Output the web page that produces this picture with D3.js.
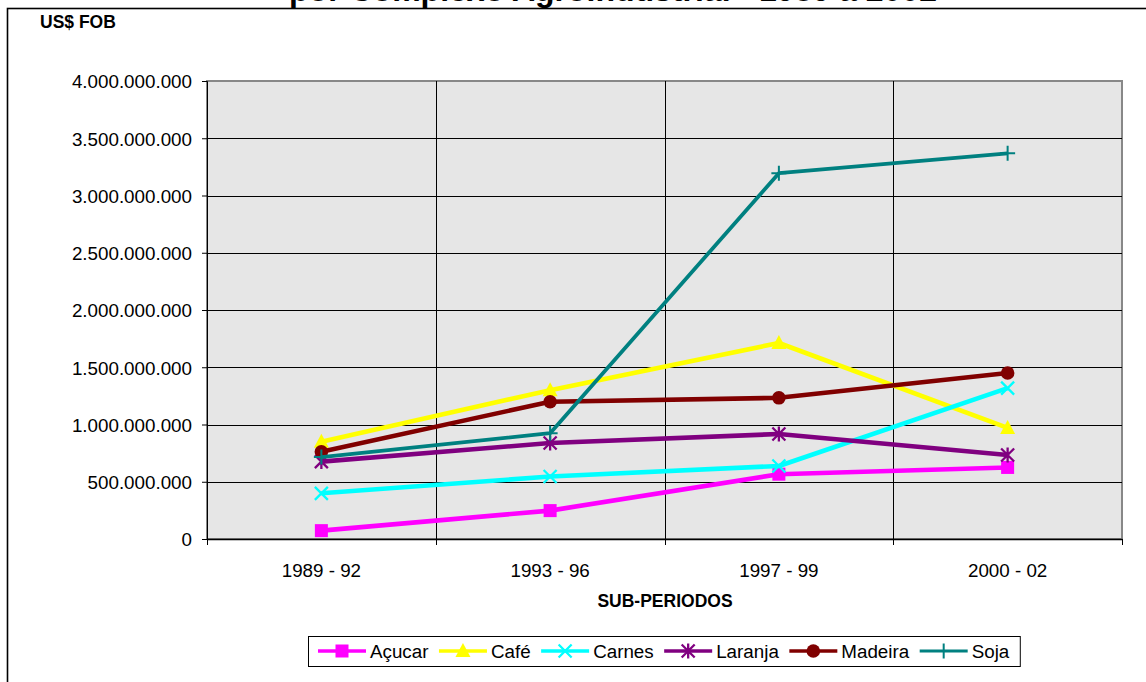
<!DOCTYPE html>
<html>
  <head>
    <meta charset="utf-8">
    <title>Exportações por Complexo Agroindustrial</title>
    <script src="https://d3js.org/d3.v7.min.js"></script>
    <style type="text/css">
body {
  margin: 0;
  background: #fff;
  font-family: "Liberation Sans", Arial, sans-serif;
}
.tick text {
  font-size: 18.8px;
  fill: #000;
}
    </style>
  </head>
  <body>
    <script type="text/javascript">

var width = 1146,
    height = 682;

// data
var periods = ["1989 - 92", "1993 - 96", "1997 - 99", "2000 - 02"];
var acucar  = [73e6, 248e6, 566e6, 625e6];
var cafe    = [850e6, 1300e6, 1712e6, 970e6];
var carnes  = [399e6, 546e6, 638e6, 1318e6];
var laranja = [676e6, 838e6, 917e6, 734e6];
var madeira = [762e6, 1199e6, 1233e6, 1450e6];
var soja    = [716e6, 924e6, 3195e6, 3368e6];
var yTicks  = [0, 5e8, 1e9, 1.5e9, 2e9, 2.5e9, 3e9, 3.5e9, 4e9];

var series = [
  {name: "Açucar",  values: acucar,  color: "#ff00ff", marker: "square"},
  {name: "Café",    values: cafe,    color: "#ffff00", marker: "triangle"},
  {name: "Carnes",  values: carnes,  color: "#00ffff", marker: "x"},
  {name: "Laranja", values: laranja, color: "#800080", marker: "star"},
  {name: "Madeira", values: madeira, color: "#800000", marker: "circle"},
  {name: "Soja",    values: soja,    color: "#008080", marker: "plus"}
];

var plot = {left: 207, top: 81, right: 1122, bottom: 539};

var svg = d3.select("body").append("svg")
    .attr("width", width)
    .attr("height", height);

// title, mostly cut off at top of the picture (as in the original)
svg.append("text")
    .attr("x", 613)
    .attr("y", 1)
    .attr("text-anchor", "middle")
    .style("font-weight", "bold")
    .style("font-size", "32px")
    .text("por Complexo Agroindustrial - 1989 a 2002");

// outer chart frame
svg.append("rect")
    .attr("x", 7.5).attr("y", 8.5)
    .attr("width", 1160).attr("height", 700)
    .attr("fill", "none")
    .attr("stroke", "#000")
    .attr("stroke-width", 1.6);

var x = d3.scaleBand()
    .domain(periods)
    .range([plot.left, plot.right])
    .padding(0);

var y = d3.scaleLinear()
    .domain([0, 4e9])
    .range([plot.bottom, plot.top]);

function cx(i) { return x(periods[i]) + x.bandwidth() / 2; }

// plot background
svg.append("rect")
    .attr("x", plot.left).attr("y", plot.top)
    .attr("width", plot.right - plot.left)
    .attr("height", plot.bottom - plot.top)
    .attr("fill", "#e6e6e6")
    .attr("stroke", "#888")
    .attr("stroke-width", 2);

// horizontal grid
svg.append("g")
  .selectAll("line")
  .data(yTicks.slice(1, -1))
  .enter().append("line")
    .attr("x1", plot.left).attr("x2", plot.right)
    .attr("y1", function(d) { return Math.round(y(d)) + 0.5; })
    .attr("y2", function(d) { return Math.round(y(d)) + 0.5; })
    .attr("stroke", "#000")
    .attr("stroke-width", 1);

// vertical grid at category boundaries (extends as tick marks)
svg.append("g")
  .selectAll("line")
  .data(periods.slice(1))
  .enter().append("line")
    .attr("x1", function(d) { return Math.round(x(d)) + 0.5; })
    .attr("x2", function(d) { return Math.round(x(d)) + 0.5; })
    .attr("y1", plot.top).attr("y2", plot.bottom + 6)
    .attr("stroke", "#000")
    .attr("stroke-width", 1);

// y axis
var yAxis = svg.append("g")
    .attr("transform", "translate(" + plot.left + ",0)")
    .call(d3.axisLeft(y)
      .tickValues(yTicks)
      .tickSize(5)
      .tickPadding(10)
      .tickFormat(function(d) { return d3.format(",")(d).replace(/,/g, "."); }));
yAxis.select(".domain").attr("stroke", "#000");
yAxis.selectAll(".tick text").attr("dy", "0.36em");

// x axis
var xAxis = svg.append("g")
    .attr("transform", "translate(0," + plot.bottom + ")")
    .call(d3.axisBottom(x).tickSize(0).tickPadding(25));
xAxis.select(".domain").attr("stroke", "#000").attr("stroke-width", 1.5);
svg.append("line")
    .attr("x1", plot.left + 0.5).attr("x2", plot.left + 0.5)
    .attr("y1", plot.bottom).attr("y2", plot.bottom + 6)
    .attr("stroke", "#000");
svg.append("line")
    .attr("x1", plot.right + 0.5).attr("x2", plot.right + 0.5)
    .attr("y1", plot.bottom).attr("y2", plot.bottom + 6)
    .attr("stroke", "#000");

// axis titles
svg.append("text")
    .attr("x", 40).attr("y", 28)
    .style("font-weight", "bold")
    .style("font-size", "17.5px")
    .text("US$ FOB");

svg.append("text")
    .attr("x", 665).attr("y", 607)
    .attr("text-anchor", "middle")
    .style("font-weight", "bold")
    .style("font-size", "17.5px")
    .text("SUB-PERIODOS");

// markers
function drawMarker(g, type, color, px, py) {
  if (type === "square") {
    g.append("rect")
      .attr("x", px - 6.5).attr("y", py - 6.5)
      .attr("width", 13).attr("height", 13)
      .attr("fill", color);
  } else if (type === "triangle") {
    g.append("path")
      .attr("d", "M" + px + "," + (py - 8) + "L" + (px + 7.5) + "," + (py + 6) + "L" + (px - 7.5) + "," + (py + 6) + "Z")
      .attr("fill", color);
  } else if (type === "circle") {
    g.append("circle")
      .attr("cx", px).attr("cy", py).attr("r", 6.8)
      .attr("fill", color);
  } else if (type === "x") {
    g.append("path")
      .attr("d", "M" + (px - 6.5) + "," + (py - 6.5) + "L" + (px + 6.5) + "," + (py + 6.5) +
                 "M" + (px + 6.5) + "," + (py - 6.5) + "L" + (px - 6.5) + "," + (py + 6.5))
      .attr("stroke", color).attr("stroke-width", 2.3).attr("fill", "none");
  } else if (type === "star") {
    g.append("path")
      .attr("d", "M" + (px - 6.5) + "," + (py - 6.5) + "L" + (px + 6.5) + "," + (py + 6.5) +
                 "M" + (px + 6.5) + "," + (py - 6.5) + "L" + (px - 6.5) + "," + (py + 6.5) +
                 "M" + px + "," + (py - 7.5) + "L" + px + "," + (py + 7.5))
      .attr("stroke", color).attr("stroke-width", 2.3).attr("fill", "none");
  } else if (type === "plus") {
    g.append("path")
      .attr("d", "M" + (px - 7.5) + "," + py + "L" + (px + 7.5) + "," + py +
                 "M" + px + "," + (py - 7.5) + "L" + px + "," + (py + 7.5))
      .attr("stroke", color).attr("stroke-width", 2).attr("fill", "none");
  }
}

var line = d3.line()
    .x(function(d, i) { return cx(i); })
    .y(function(d) { return y(d); });

var seriesG = svg.append("g");
series.forEach(function(s) {
  var g = seriesG.append("g");
  g.append("path")
    .attr("d", line(s.values))
    .attr("fill", "none")
    .attr("stroke", s.color)
    .attr("stroke-width", s.name === "Soja" ? 3.8 : 4.6)
    .attr("stroke-linejoin", "round");
  s.values.forEach(function(v, i) {
    drawMarker(g, s.marker, s.color, cx(i), y(v));
  });
});

// legend
var legend = svg.append("g");
var legendBox = legend.append("rect")
    .attr("fill", "#fff")
    .attr("stroke", "#000")
    .attr("stroke-width", 1);
var lx = 318, ly = 651;
series.forEach(function(s) {
  var g = legend.append("g");
  g.append("line")
    .attr("x1", lx).attr("x2", lx + 48)
    .attr("y1", ly).attr("y2", ly)
    .attr("stroke", s.color)
    .attr("stroke-width", s.name === "Soja" ? 3 : 3.5);
  drawMarker(g, s.marker, s.color, lx + 24, ly);
  var t = g.append("text")
    .attr("x", lx + 52).attr("y", ly)
    .attr("dy", "0.36em")
    .style("font-size", "18.8px")
    .text(s.name);
  lx += 52 + t.node().getComputedTextLength() + 10.5;
});
legendBox
    .attr("x", 308.5).attr("y", 636.5)
    .attr("width", lx - 308).attr("height", 30);

    </script>
  </body>
</html>
